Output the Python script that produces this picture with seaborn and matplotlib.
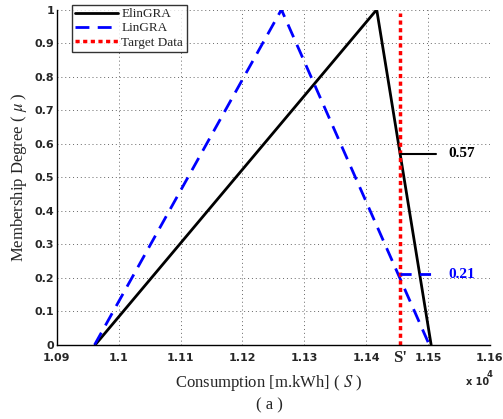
import numpy as np
import pandas as pd
import seaborn as sns
import matplotlib
matplotlib.use("Agg")
import matplotlib.pyplot as plt
from matplotlib.ticker import MultipleLocator, FuncFormatter

# data (consumption in m.kWh)
elin_x = [10962, 11417, 11505]
elin_y = [0, 1, 0]
lin_x = [10961, 11263, 11502]
lin_y = [0, 1, 0]
target_x = [11455, 11455]
target_y = [0, 0.99]
s_prime = 11455
elin_val = 0.57
lin_val = 0.21
mark_end = 11513
xticks = [10900, 11000, 11100, 11200, 11300, 11400, 11500, 11600]
yticks = [0, 0.1, 0.2, 0.3, 0.4, 0.5, 0.6, 0.7, 0.8, 0.9, 1.0]

sns.set_style("white")
plt.rcParams["mathtext.fontset"] = "stix"
fig = plt.figure(figsize=(5.03, 4.19), dpi=100)
ax = fig.add_axes([0.113, 0.177, 0.861, 0.8])

df_e = pd.DataFrame({"x": elin_x, "y": elin_y})
df_l = pd.DataFrame({"x": lin_x, "y": lin_y})
df_t = pd.DataFrame({"x": target_x, "y": target_y})

sns.lineplot(data=df_e, x="x", y="y", ax=ax, color="black", lw=2, label="ElinGRA",
             sort=False, estimator=None)
sns.lineplot(data=df_l, x="x", y="y", ax=ax, color="#0000ff", lw=2, label="LinGRA",
             sort=False, estimator=None)
ax.lines[-1].set_dashes([5, 3])
sns.lineplot(data=df_t, x="x", y="y", ax=ax, color="#ff0000", lw=2.5, label="Target Data",
             sort=False, estimator=None)
ax.lines[-1].set_dashes([1.2, 1.0])

# annotations
ax.plot([s_prime, mark_end], [elin_val, elin_val], color="black", lw=1.5)
ax.text(mark_end + 20, elin_val, "0.57", fontsize=11, fontweight="bold", family="Liberation Serif",
        va="center", ha="left", color="black")
ax.plot([s_prime, mark_end], [lin_val, lin_val], color="#0000ff", lw=2, dashes=[4, 3])
ax.text(mark_end + 20, lin_val, "0.21", fontsize=11, fontweight="bold", family="Liberation Serif",
        va="center", ha="left", color="#0000ff")

ax.set_xlim(10900, 11600)
ax.set_ylim(0, 1)
ax.set_xticks(xticks)
ax.set_yticks(yticks)
ax.xaxis.set_minor_locator(MultipleLocator(10))
ax.yaxis.set_minor_locator(MultipleLocator(0.01))
ax.xaxis.set_major_formatter(FuncFormatter(lambda v, p: f"{v/1e4:g}"))
ax.yaxis.set_major_formatter(FuncFormatter(lambda v, p: f"{v:g}"))
for lab in ax.get_xticklabels() + ax.get_yticklabels():
    lab.set_fontweight("bold")
    lab.set_fontsize(8)
    lab.set_family("DejaVu Sans")
ax.tick_params(axis="x", which="major", pad=6)
ax.tick_params(axis="y", which="major", pad=2)
ax.tick_params(axis="both", which="major", direction="in", length=4, width=0.8, color="black")
ax.tick_params(axis="both", which="minor", direction="in", length=2, width=0.5, color="black")

ax.grid(True, which="major", color="#666666", linestyle=(0, (1, 3)), lw=0.7)
for s in ["top", "right"]:
    ax.spines[s].set_visible(False)
for s in ["left", "bottom"]:
    ax.spines[s].set_color("black")
    ax.spines[s].set_linewidth(1)

ax.set_xlabel("")
ax.set_ylabel("Membership Degree ( $\\mu$ )", fontsize=12, family="Liberation Serif", labelpad=4)
fig.text(0.535, 0.085, "Consumption [m.kWh] ( $S$ )", fontsize=12, family="Liberation Serif",
         ha="center", va="center")
fig.text(0.535, 0.032, "( a )", fontsize=12, family="Liberation Serif", ha="center", va="center")
ax.text(s_prime, -0.04, "S'", fontsize=12, fontweight="bold", family="Liberation Serif",
        ha="center", va="center", transform=ax.transData)
fig.text(0.927, 0.088, "x 10", fontsize=7, fontweight="bold", ha="left", va="center")
fig.text(0.968, 0.106, "4", fontsize=6, fontweight="bold", ha="left", va="center")

leg = ax.legend(loc="upper left", bbox_to_anchor=(0.035, 1.015), prop={"family": "Liberation Serif", "size": 9.5},
                frameon=True, fancybox=False, edgecolor="black", handlelength=3.2,
                borderpad=0.25, labelspacing=0.15, handletextpad=0.3, borderaxespad=0.0)
leg.get_frame().set_linewidth(1)

fig.savefig("out.png", dpi=100)
